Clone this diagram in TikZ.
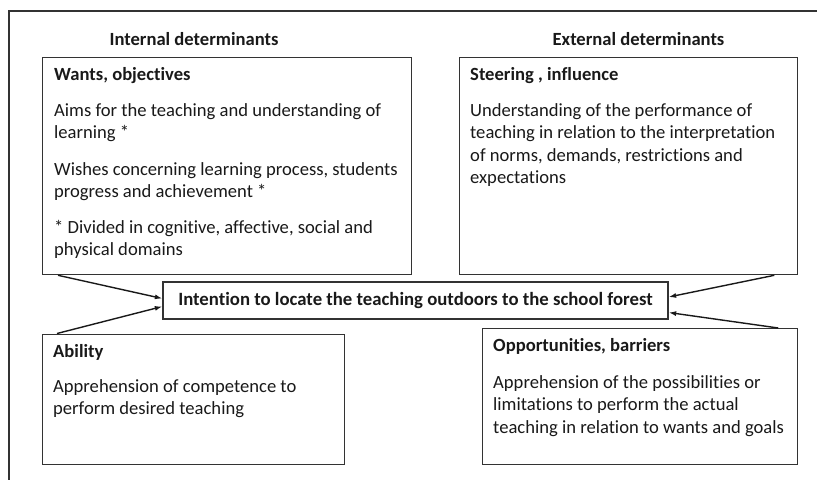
\documentclass[tikz,border=0pt]{standalone}
\usepackage{fontspec}
\setmainfont{Carlito}[Ligatures=NoCommon]
\usetikzlibrary{arrows.meta,calc}

\tikzset{
  boxline/.style={draw=black!80, line width=1.3pt, inner sep=0pt, anchor=north west},
  %% anchor base west = baseline of the LAST line of a block
  boxtext/.style={anchor=base west, inner sep=0pt, align=left, text=black!90,
    font=\fontsize{18.6}{22.5}\selectfont},
  boldtext/.style={boxtext, font=\bfseries\fontsize{18.6}{22.5}\selectfont},
  headtext/.style={anchor=base, inner sep=0pt, text=black!90,
    font=\bfseries\fontsize{18.6}{22.5}\selectfont},
  pointer/.style={-{Latex[length=7.5pt,width=5pt]}, line width=1.4pt, draw=black!90},
}

\begin{document}
\begin{tikzpicture}[x=1pt,y=-1pt]

\useasboundingbox (0,0) rectangle (817,480);

%% outer frame, open at right and bottom
\draw[draw=black!80, line width=1.3pt] (817,11) -- (9,11) -- (9,480);

%% column titles
\node[headtext] (internal) at (194,45) {Internal determinants};
\node[headtext] (external) at (638.5,45) {External determinants};

%% boxes
\node[boxline, minimum width=369pt, minimum height=217pt] (wants) at (41.5,57) {};
\node[boxline, minimum width=337.5pt, minimum height=217pt] (steer) at (459,57) {};
\node[boxline, minimum width=302.5pt, minimum height=130.5pt] (ability) at (41.5,333.5) {};
\node[boxline, minimum width=315pt, minimum height=136pt] (chance) at (481.5,328) {};

\node[boxline, anchor=center, minimum width=505pt, minimum height=37pt, text=black!90,
  font=\bfseries\fontsize{18.75}{22.5}\selectfont] (intent) at (415.5,300.5)
  {Intention to locate the teaching outdoors to the school forest};

%% texts, wants
\node[boldtext] (wantsHead) at (54,80) {Wants, objectives};
\node[boxtext] (wantsAims) at (54,138.5) {Aims for the teaching and understanding of\\learning *};
\node[boxtext] (wantsWish) at (54,197.5) {Wishes concerning learning process, students\\progress and achievement *};
\node[boxtext] (wantsDom) at (54,255.5) {* Divided in cognitive, affective, social and\\physical domains};

%% texts, steering
\node[boldtext] (steerHead) at (470,80) {Steering , influence};
\node[boxtext] (steerBody) at (470,183.5) {Understanding of the performance of\\teaching in relation to the interpretation\\of norms, demands, restrictions and\\expectations};

%% texts, ability
\node[boldtext] (abilityHead) at (53,357) {Ability};
\node[boxtext] (abilityBody) at (53,414.5) {Apprehension of competence to\\perform desired teaching};

%% texts, opportunities
\node[boldtext] (chanceHead) at (493,351) {Opportunities, barriers};
\node[boxtext] (chanceBody) at (493,433) {Apprehension of the possibilities or\\limitations to perform the actual\\teaching in relation to wants and goals};

%% arrows into the intention
\draw[pointer] ($(wants.south west)+(16.5,0)$) -- ($(intent.west)+(0,-2)$);
\draw[pointer] ($(ability.north west)+(15.5,0)$) -- ($(intent.west)+(0,6)$);
\draw[pointer] ($(steer.south east)+(-23.5,0)$) -- ($(intent.east)+(0,-3.5)$);
\draw[pointer] ($(chance.north east)+(-19.5,0)$) -- ($(intent.east)+(0,12)$);

\end{tikzpicture}
\end{document}
